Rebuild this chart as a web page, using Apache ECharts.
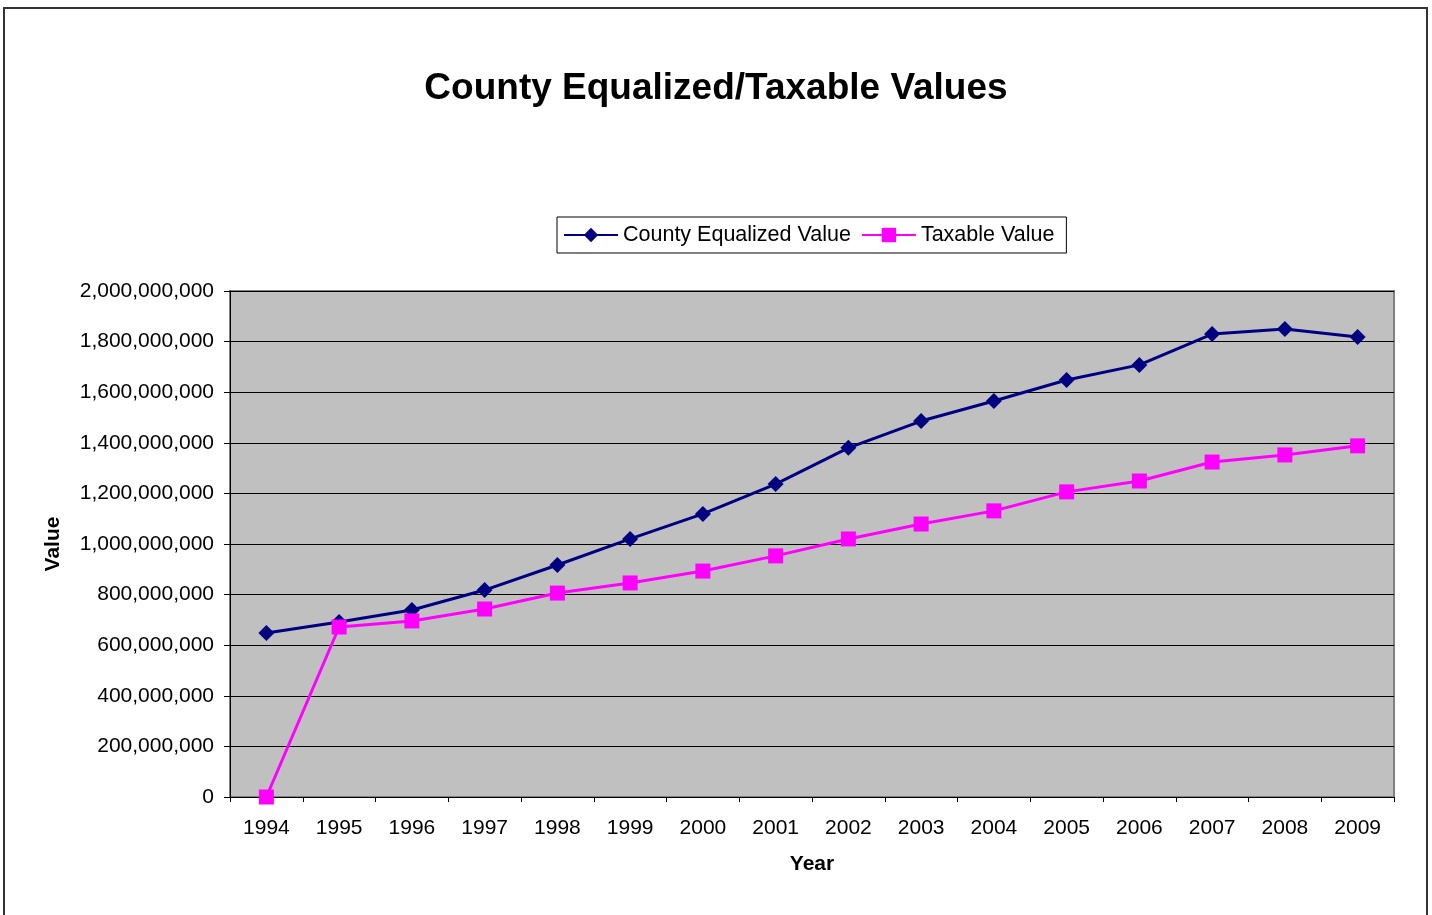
<!DOCTYPE html>
<html>
<head>
<meta charset="utf-8">
<script src="https://cdn.jsdelivr.net/npm/echarts@6/dist/echarts.min.js"></script>
<style>
  html, body { margin: 0; padding: 0; background: #fff; }
  .frame {
    position: absolute; left: 3px; top: 7px;
    width: 1421px; height: 920px;
    border: 2px solid #333;
  }
  #chart { position: absolute; left: 0; top: 0; width: 1432px; height: 915px; }
</style>
</head>
<body>
<div class="frame"></div>
<div id="chart"></div>
<script>
  // years on the category axis
  var years = ['1994','1995','1996','1997','1998','1999','2000','2001','2002','2003','2004','2005','2006','2007','2008','2009']
  // county equalized value
  var equalized = [648e6, 692e6, 739e6, 818e6, 917e6, 1020e6, 1119e6, 1237e6, 1380e6, 1486e6, 1565e6, 1648e6, 1708e6, 1830e6, 1850e6, 1818e6]
  // taxable value
  var taxable = [0, 672e6, 696e6, 743e6, 806e6, 846e6, 893e6, 953e6, 1020e6, 1079e6, 1131e6, 1206e6, 1249e6, 1324e6, 1352e6, 1388e6]

  var font = 'Arial, "Liberation Sans", sans-serif'
  var myChart = echarts.init(document.getElementById('chart'))
  myChart.setOption({
    animation: false,
    textStyle: { fontFamily: font },
    title: {
      text: 'County Equalized/Taxable Values',
      left: 'center',
      top: 65,
      textStyle: { fontSize: 37, fontWeight: 'bold', color: '#000', fontFamily: font }
    },
    legend: {
      left: 557,
      top: 217,
      padding: [7, 12, 7, 6],
      borderColor: '#000',
      borderWidth: 1,
      itemWidth: 54,
      itemHeight: 18,
      itemGap: 10,
      lineStyle: { width: 2 },
      textStyle: { fontSize: 21.5, color: '#000', fontFamily: font },
      data: ['County Equalized Value', 'Taxable Value']
    },
    grid: {
      left: 230,
      right: 38,
      top: 291,
      bottom: 118,
      show: true,
      backgroundColor: '#C0C0C0',
      borderColor: '#808080',
      borderWidth: 2
    },
    xAxis: {
      type: 'category',
      data: years,
      boundaryGap: true,
      name: 'Year',
      nameLocation: 'middle',
      nameGap: 57,
      nameTextStyle: { fontSize: 21, fontWeight: 'bold', color: '#000', fontFamily: font },
      axisLine: { lineStyle: { color: '#000', width: 1 } },
      axisTick: { show: true, length: 5, inside: false, lineStyle: { color: '#000' } },
      axisLabel: { fontSize: 21, color: '#000', margin: 21, fontFamily: font }
    },
    yAxis: {
      type: 'value',
      min: 0,
      max: 2000000000,
      interval: 200000000,
      name: 'Value',
      nameLocation: 'middle',
      nameGap: 166,
      nameRotate: 90,
      nameTextStyle: { fontSize: 21, fontWeight: 'bold', color: '#000', fontFamily: font },
      axisLine: { show: true, lineStyle: { color: '#000', width: 1 } },
      axisTick: { show: true, length: 6, lineStyle: { color: '#000' } },
      axisLabel: {
        fontSize: 21, color: '#000', margin: 16, fontFamily: font,
        formatter: function (v) { return v.toLocaleString('en-US') }
      },
      splitLine: { show: true, lineStyle: { color: '#000', width: 1 } }
    },
    series: [
      {
        name: 'County Equalized Value',
        type: 'line',
        data: equalized,
        symbol: 'diamond',
        symbolSize: 16,
        itemStyle: { color: '#000080' },
        lineStyle: { color: '#000080', width: 3 }
      },
      {
        name: 'Taxable Value',
        type: 'line',
        data: taxable,
        symbol: 'rect',
        symbolSize: 15,
        itemStyle: { color: '#FF00FF' },
        lineStyle: { color: '#FF00FF', width: 3 }
      }
    ]
  })
</script>
</body>
</html>
